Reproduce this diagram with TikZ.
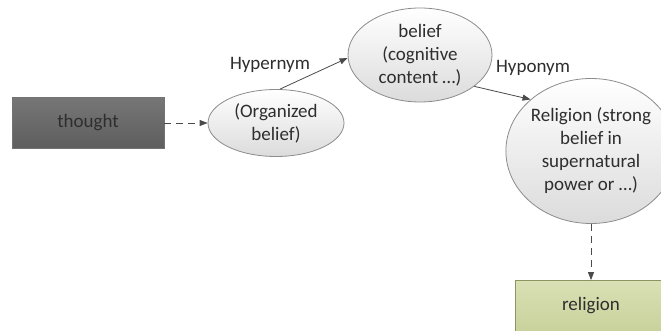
\documentclass[tikz,border=0pt]{standalone}
\usepackage{fontspec}
\setmainfont{Carlito}
\usetikzlibrary{shapes.geometric,arrows.meta}
\definecolor{inkc}{HTML}{2E2E2E}
\definecolor{linec}{HTML}{4A4A4A}
\definecolor{ellborder}{HTML}{8C8C8C}
\definecolor{darkbox}{HTML}{767676}
\definecolor{darkboxb}{HTML}{5E5E5E}
\definecolor{greenbox}{HTML}{D9E0B4}
\definecolor{greenboxb}{HTML}{C9D29C}
\definecolor{greenborder}{HTML}{8A9560}
\begin{document}
\begin{tikzpicture}[x=1pt,y=-1pt,
  every node/.style={font=\fontsize{19}{23}\selectfont, text=inkc},
  concept/.style={ellipse, draw=ellborder, line width=0.8pt, top color=white, bottom color=black!14, inner sep=0pt, align=center},
  wordbox/.style={rectangle, line width=0.8pt, minimum width=152pt, minimum height=51pt, inner sep=0pt},
  link/.style={draw=linec, line width=0.8pt, -{Triangle[length=8pt,width=6pt]}},
  dlink/.style={link, dash pattern=on 7pt off 5pt},
  lbl/.style={inner sep=0pt}]
\useasboundingbox (0,0) rectangle (661,331);
\clip (0,0) rectangle (661,331);
\fill[white] (0,0) rectangle (661,331);
% nodes
\node[wordbox, draw=black!55, top color=darkbox, bottom color=darkboxb] (thought) at (88,123) {thought};
\node[concept, minimum width=136pt, minimum height=67pt] (org) at (276,123) {(Organized\\belief)};
\node[concept, minimum width=144pt, minimum height=94pt] (belief) at (420,55) {belief\\(cognitive\\content \ldots)};
\node[concept, minimum width=160pt, minimum height=145pt] (rel) at (591,151) {Religion (strong\\belief in\\supernatural\\power or \ldots)};
\node[wordbox, draw=greenborder, top color=greenbox, bottom color=greenboxb] (religion) at (591,306) {religion};
% labels
\node[lbl] (hyper) at (270,65) {Hypernym};
\node[lbl] (hypo) at (533,68) {Hyponym};
% connectors
\draw[dlink] (thought.east) -- (org.west);
\draw[link] (org.north) ++(4,0) coordinate (orgtop) (orgtop) -- (belief.west |- 0,58);
\draw[link] (belief.-30) -- (rel.north west);
\draw[dlink] (rel.south) -- (religion.north);
\end{tikzpicture}
\end{document}
